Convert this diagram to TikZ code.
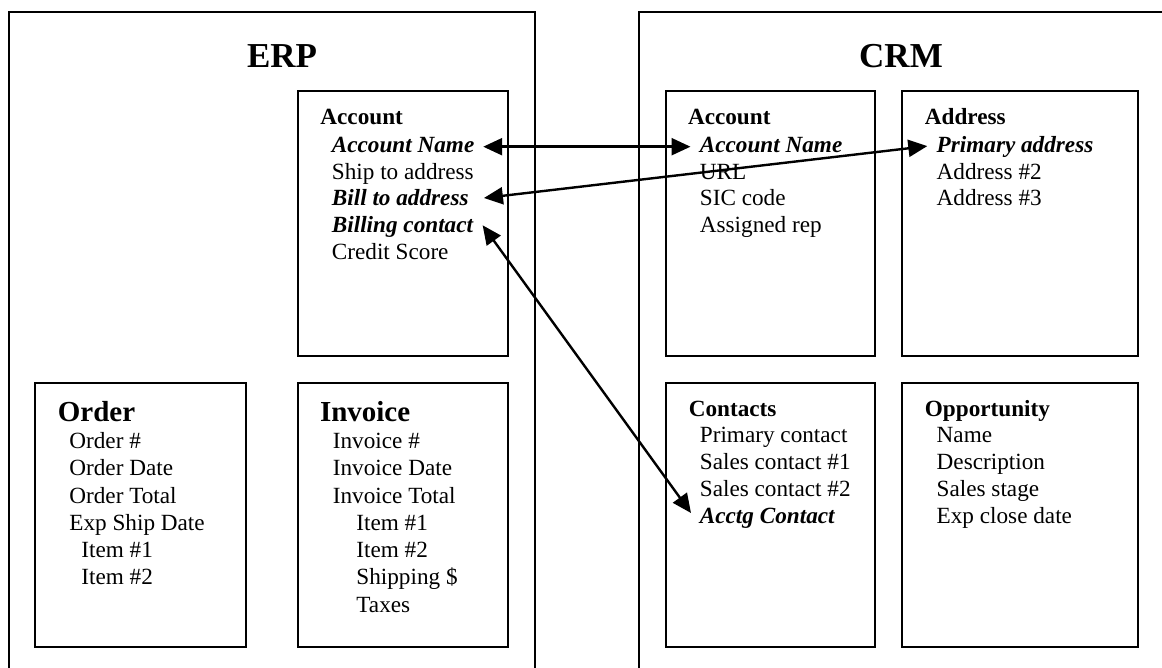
\documentclass[tikz,border=0pt]{standalone}
\usepackage{fontspec}
\setmainfont{Liberation Serif}
\usetikzlibrary{arrows.meta}
\begin{document}
\begin{tikzpicture}[x=0.5pt,y=-0.5pt,
  frame/.style={line width=1pt},
  box/.style={line width=1.15pt},
  item/.style={anchor=base west,inner sep=0pt,font=\fontsize{11.6}{13.5}\selectfont},
  key/.style={item,font=\fontsize{11.6}{13.5}\selectfont\bfseries\itshape},
  head/.style={item,font=\fontsize{11.6}{13.5}\selectfont\bfseries},
  bighead/.style={item,font=\fontsize{14.5}{16}\selectfont\bfseries},
  title/.style={anchor=base,inner sep=0pt,font=\fontsize{17.5}{20}\selectfont\bfseries},
  arr/.style={{Triangle[length=9.5pt,width=8.5pt]}-{Triangle[length=9.5pt,width=8.5pt]},line width=1.2pt}]
\useasboundingbox (0,0) rectangle (1162,668);
% outer frames
\draw[frame] (9,680) |- (535,12) -- (535,680);
\draw[frame] (639,680) |- (1175,12);
\node[title] (erp) at (282,68) {ERP};
\node[title] (crm) at (901,68) {CRM};
% boxes
\draw[box] (298,91) rectangle (508,356);
\draw[box] (35,383) rectangle (246,647);
\draw[box] (298,383) rectangle (508,647);
\draw[box] (666,91) rectangle (875,356);
\draw[box] (902,91) rectangle (1138,356);
\draw[box] (666,383) rectangle (875,647);
\draw[box] (902,383) rectangle (1138,647);
% ERP Account
\node[head] (eacc) at (320,125) {Account};
\node[key]  (eAN)  at (331.5,152.7) {Account Name};
\node[item] (eShip) at (331.5,179.5) {Ship to address};
\node[key]  (eBill) at (331.5,206) {Bill to address};
\node[key]  (eBC)  at (331.5,232.5) {Billing contact};
\node[item] (eCS)  at (331.5,259.5) {Credit Score};
% Order
\node[bighead] (ord) at (57.5,421) {Order};
\node[item] (o1) at (69,448.5) {Order \#};
\node[item] (o2) at (69,475.8) {Order Date};
\node[item] (o3) at (69,503) {Order Total};
\node[item] (o4) at (69,530.3) {Exp Ship Date};
\node[item] (o5) at (81,557.5) {Item \#1};
\node[item] (o6) at (81,584.8) {Item \#2};
% Invoice
\node[bighead] (inv) at (319.6,421) {Invoice};
\node[item] (i1) at (332.5,448.5) {Invoice \#};
\node[item] (i2) at (332.5,475.8) {Invoice Date};
\node[item] (i3) at (332.5,503) {Invoice Total};
\node[item] (i4) at (356,530.3) {Item \#1};
\node[item] (i5) at (356,557.5) {Item \#2};
\node[item] (i6) at (356,584.8) {Shipping \$};
\node[item] (i7) at (356,612) {Taxes};
% CRM Account
\node[head] (cacc) at (687.6,125) {Account};
\node[key]  (cAN)  at (699.5,152.7) {Account Name};
\node[item] (cURL) at (699.5,179.5) {URL};
\node[item] (cSIC) at (699.5,206) {SIC code};
\node[item] (cRep) at (699.5,232.5) {Assigned rep};
% Address
\node[head] (addr) at (924.5,125) {Address};
\node[key]  (aP)   at (936.3,152.7) {Primary address};
\node[item] (a2)   at (936.3,179.5) {Address \#2};
\node[item] (a3)   at (936.3,206) {Address \#3};
% Contacts
\node[head] (cont) at (688.4,416) {Contacts};
\node[item] (k1) at (699.5,442) {Primary contact};
\node[item] (k2) at (699.5,469) {Sales contact \#1};
\node[item] (k3) at (699.5,496) {Sales contact \#2};
\node[key]  (kA) at (699.5,523) {Acctg Contact};
% Opportunity
\node[head] (opp) at (924.5,416) {Opportunity};
\node[item] (p1) at (936.3,442) {Name};
\node[item] (p2) at (936.3,469) {Description};
\node[item] (p3) at (936.3,496) {Sales stage};
\node[item] (p4) at (936.3,523) {Exp close date};
% arrows
\draw[arr] ([xshift=4.25pt,yshift=3pt]eAN.base east) -- ([xshift=-4.5pt,yshift=3pt]cAN.base west);
\draw[arr] ([xshift=7.5pt,yshift=4pt]eBill.base east) -- ([xshift=-4.5pt,yshift=3.3pt]aP.base west);
\draw[arr] ([xshift=4.6pt,yshift=3.6pt]eBC.base east) -- ([xshift=-4.25pt,yshift=5pt]kA.base west);
\end{tikzpicture}
\end{document}
